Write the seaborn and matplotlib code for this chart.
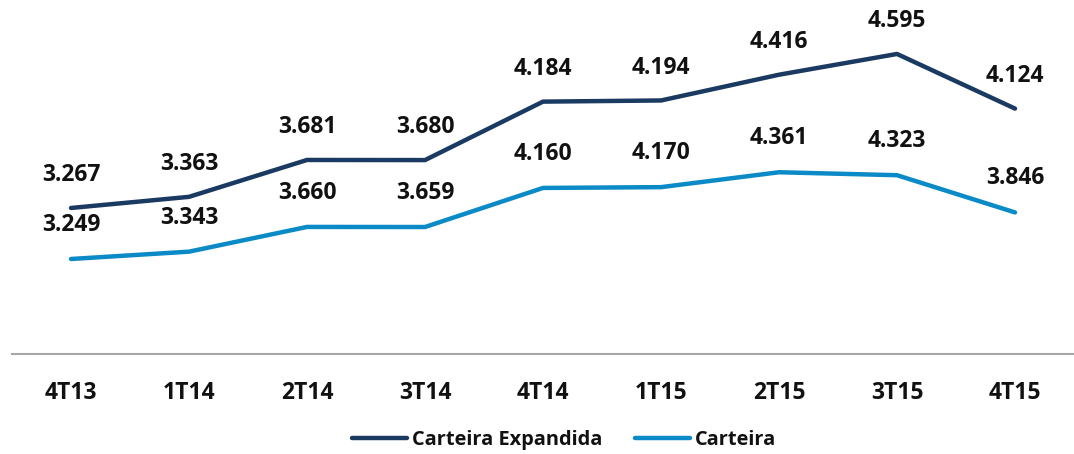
import matplotlib
matplotlib.use("Agg")
import matplotlib.pyplot as plt
import seaborn as sns
import pandas as pd

categories = ["4T13", "1T14", "2T14", "3T14", "4T14", "1T15", "2T15", "3T15", "4T15"]
expandida = [3.267, 3.363, 3.681, 3.680, 4.184, 4.194, 4.416, 4.595, 4.124]
carteira = [3.249, 3.343, 3.660, 3.659, 4.160, 4.170, 4.361, 4.323, 3.846]
labels_exp = ["3.267", "3.363", "3.681", "3.680", "4.184", "4.194", "4.416", "4.595", "4.124"]
labels_cart = ["3.249", "3.343", "3.660", "3.659", "4.160", "4.170", "4.361", "4.323", "3.846"]

sns.set_theme(style="white")
plt.rcParams['font.family'] = ['Open Sans', 'DejaVu Sans']
plt.rcParams['font.weight'] = 'bold'

navy = "#1B3A61"
blue = "#0A8AC6"

W, H = 1074, 454
fig = plt.figure(figsize=(W / 100, H / 100), dpi=100)
ax = fig.add_axes([12 / W, (H - 354) / H, 1062 / W, (354 - 10) / H])
ax2 = ax.twinx()

df = pd.DataFrame({"cat": categories, "exp": expandida, "cart": carteira})
df["pos"] = range(len(categories))

sns.lineplot(data=df, x="pos", y="exp", ax=ax, color=navy, linewidth=3.2,
             label="Carteira Expandida", legend=False)
sns.lineplot(data=df, x="pos", y="cart", ax=ax2, color=blue, linewidth=3.2,
             label="Carteira", legend=False)

ax.set_xlim(-0.5, len(categories) - 0.5)
ax.set_ylim(2.008, 4.974)
ax2.set_ylim(2.031, 6.441)

for i, (v, t) in enumerate(zip(expandida, labels_exp)):
    ax.annotate(t, (i, v), xytext=(0, 23.5), textcoords="offset points",
                ha="center", va="center", fontsize=16.5, fontweight="bold", color="#111111")
for i, (v, t) in enumerate(zip(carteira, labels_cart)):
    ax2.annotate(t, (i, v), xytext=(0, 24.5), textcoords="offset points",
                 ha="center", va="center", fontsize=16.5, fontweight="bold", color="#111111")

ax.set_xticks(range(len(categories)))
ax.set_xticklabels(categories, fontsize=16.5, fontweight="bold", color="#111111")
ax.tick_params(axis="x", length=0, pad=19.5)
ax.set_yticks([])
ax2.set_yticks([])
ax.set_xlabel("")
ax.set_ylabel("")
ax2.set_ylabel("")
for a in (ax, ax2):
    for s in ["top", "left", "right", "bottom"]:
        a.spines[s].set_visible(False)
ax.spines["bottom"].set_visible(True)
ax.spines["bottom"].set_color("#A6A6A6")
ax.spines["bottom"].set_linewidth(1.5)

handles = [ax.get_lines()[0], ax2.get_lines()[0]]
fig.legend(handles, ["Carteira Expandida", "Carteira"], loc="center",
           bbox_to_anchor=(564 / W, 1 - 440 / H), ncol=2, frameon=False,
           prop={"size": 14.4, "weight": "bold"}, handlelength=2.75,
           handletextpad=0.25, columnspacing=1.65, labelcolor="#111111")

fig.savefig("out.png", dpi=100)
